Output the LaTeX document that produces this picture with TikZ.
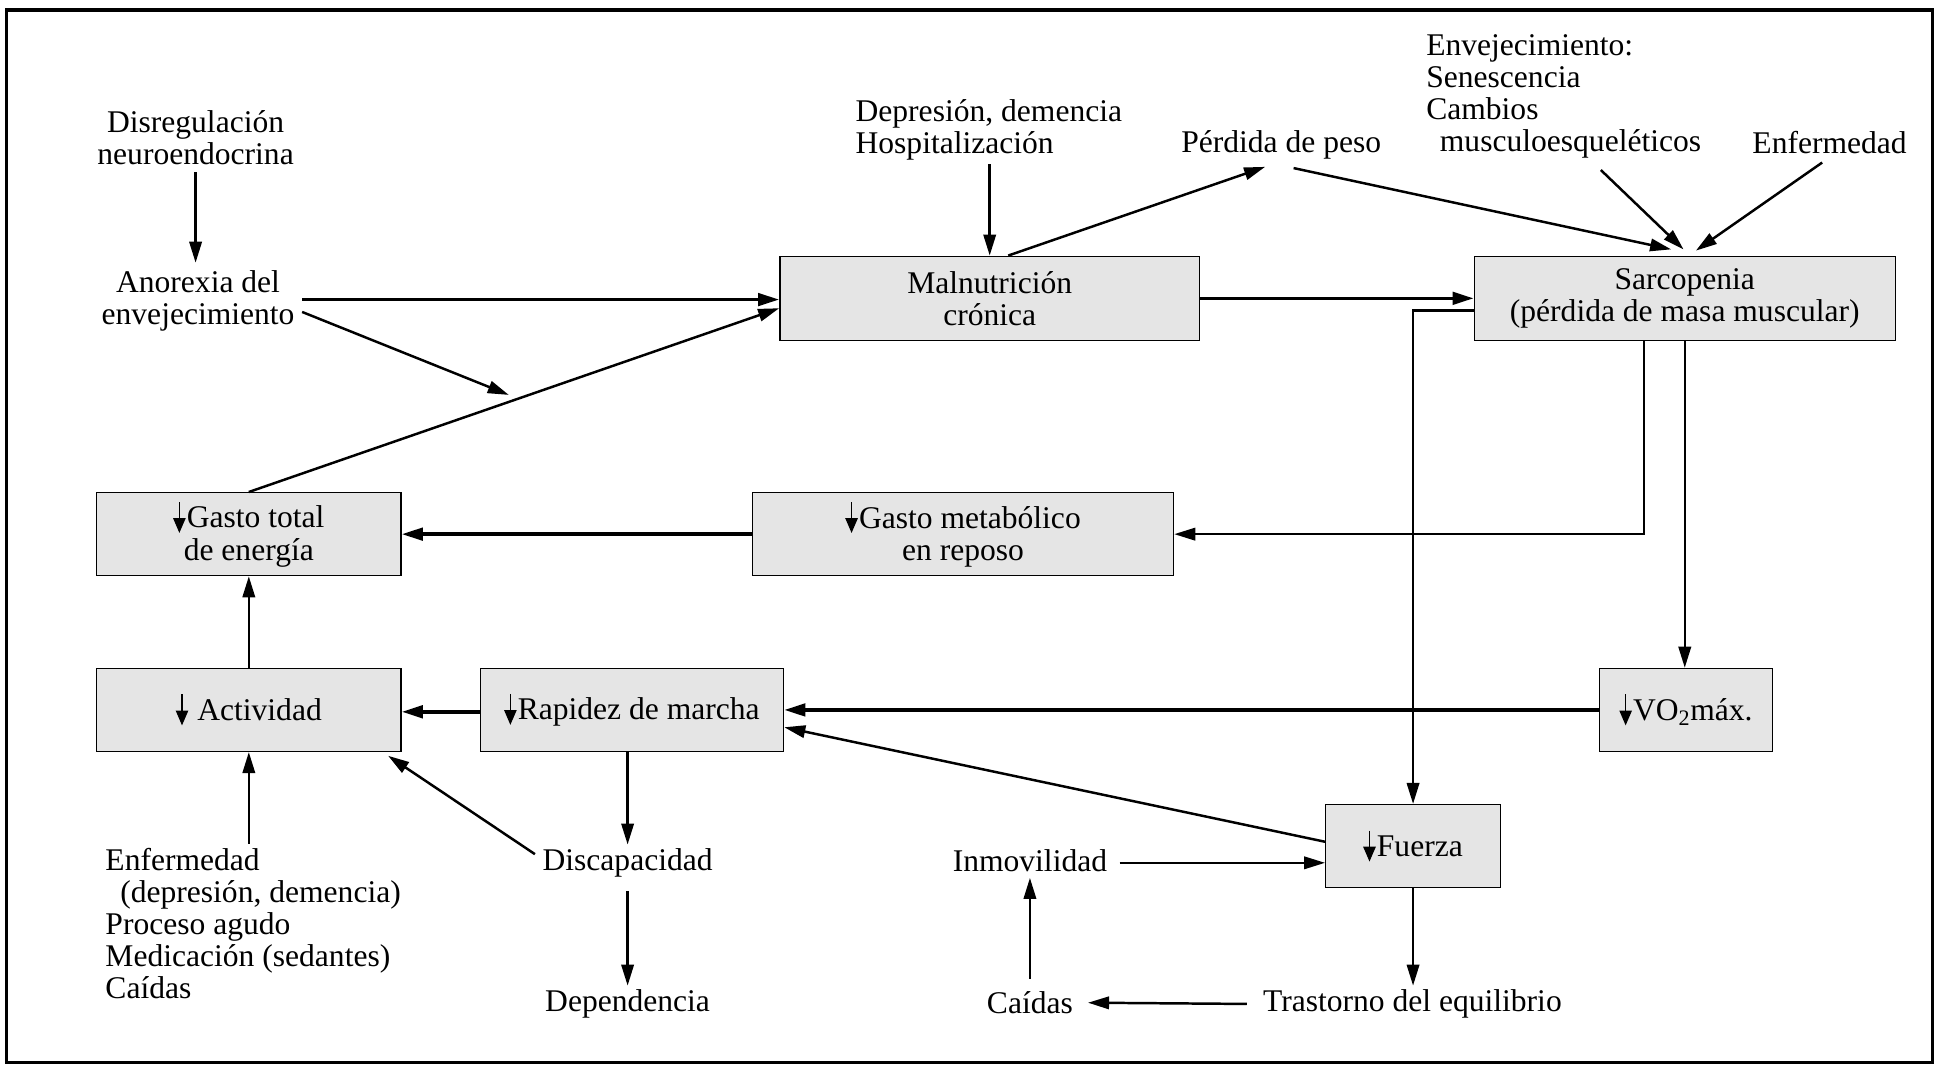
\documentclass[tikz,border=0pt]{standalone}
\usepackage{fontspec}
\setmainfont{Liberation Serif}
\usetikzlibrary{arrows.meta,calc}
\newcommand{\dnarrow}{\tikz[baseline=0pt]{\draw[line width=1.1pt,-{Triangle[length=12pt,width=10pt]}] (0pt,21pt) -- (0pt,-4pt);}\hspace{1pt}}
\tikzset{
  box/.style={draw=black,line width=1.1pt,fill=gray!20,align=center,inner sep=0pt},
  txt/.style={align=center,inner sep=3pt},
  conn/.style={line width=2pt,-{Triangle[length=17pt,width=10pt]}},
  thick conn/.style={line width=2.8pt,-{Triangle[length=17pt,width=10pt]}}
}
\begin{document}
\begin{tikzpicture}[x=1pt,y=-1pt,font=\fontsize{25.5pt}{26pt}\selectfont]
\useasboundingbox (0,0) rectangle (1568,868);
\draw[line width=2.6pt] (5,8) rectangle (1561,858);

% boxes
\node[box,minimum width=339pt,minimum height=68pt] (malnut) at (799.5,241) {Malnutrición\\crónica};
\node[box,minimum width=340pt,minimum height=68pt] (sarco) at (1361,241) {Sarcopenia\\(pérdida de masa muscular)};
\node[box,minimum width=246pt,minimum height=67pt] (gtotal) at (201,431.5) {\dnarrow Gasto total\\de energía};
\node[box,minimum width=340pt,minimum height=67pt] (gmet) at (778,431.5) {\dnarrow Gasto metabólico\\en reposo};
\node[box,minimum width=246pt,minimum height=67pt] (activ) at (201,573.5) {\dnarrow\ Actividad};
\node[box,minimum width=245pt,minimum height=67pt] (rapidez) at (510.5,573.5) {\dnarrow Rapidez de marcha};
\node[box,minimum width=140pt,minimum height=67pt] (vo2) at (1362,573.5) {\dnarrow VO\textsubscript{2}máx.};
\node[box,minimum width=141pt,minimum height=67pt] (fuerza) at (1141.5,683.5) {\dnarrow Fuerza};

% text nodes
\node[txt] (disreg) at (158,111) {Disregulación\\neuroendocrina};
\node[txt] (anorex) at (160,243) {Anorexia del\\envejecimiento};
\node[txt,align=left,anchor=west] (depres) at (688,105) {Depresión, demencia\\Hospitalización};
\node[txt] (perdida) at (1035,117) {Pérdida de peso};
\node[txt,align=left,anchor=west] (envej) at (1149,78) {Envejecimiento:\\Senescencia\\Cambios\\\hspace*{11pt}musculoesqueléticos};
\node[txt] (enferm) at (1478,115) {Enfermedad};
\node[txt,align=left,anchor=west] (left) at (82,746) {Enfermedad\\\hspace*{12pt}(depresión, demencia)\\Proceso agudo\\Medicación (sedantes)\\Caídas};
\node[txt] (discap) at (507,697) {Discapacidad};
\node[txt] (depend) at (507,811) {Dependencia};
\node[txt] (inmov) at (832,695) {Inmovilidad};
\node[txt] (caidas) at (832,810) {Caídas};
\node[txt] (trast) at (1141,811) {Trastorno del equilibrio};

\coordinate (mid) at (411,319);

% connectors
\draw[conn] ([yshift=-3pt]disreg.south) -- ([yshift=3pt]disreg.south |- anorex.north);
\draw[thick conn] ([xshift=3pt,yshift=1pt]anorex.east) -- ([yshift=1pt]anorex.east -| malnut.west);
\draw[conn] ([xshift=3pt,yshift=-9pt]anorex.east) -- (mid);
\draw[conn] (gtotal.north) -- ([yshift=-8pt]malnut.west);
\draw[conn] (malnut.north |- depres.south) -- (malnut.north);
\draw[conn] ([xshift=15pt]malnut.north) -- ([xshift=-13pt,yshift=-3pt]perdida.south);
\draw[conn] ([xshift=10pt,yshift=-4pt]perdida.south) -- ([xshift=-11pt,yshift=5pt]sarco.north);
\draw[conn] ([xshift=30pt,yshift=-6pt]envej.south) -- ([xshift=-1pt,yshift=5pt]sarco.north);
\draw[conn] ([xshift=-6pt,yshift=-4pt]enferm.south) -- ([xshift=9pt,yshift=4pt]sarco.north);
\draw[thick conn] (malnut.east) -- (sarco.west);
\draw[conn] ([yshift=-10pt]sarco.west) -| (fuerza.north);
\draw[conn] ([xshift=-33pt]sarco.south) |- (gmet.east);
\draw[conn] (sarco.south) -- (sarco.south |- vo2.north);
\draw[thick conn] (gmet.west) -- (gtotal.east);
\draw[conn] (activ.north) -- (gtotal.south);
\draw[thick conn] ([yshift=-1.5pt]rapidez.west) -- ([yshift=-1.5pt]activ.east);
\draw[thick conn] (vo2.west) -- (rapidez.east);
\draw[conn] ([yshift=3.5pt]fuerza.west) -- ([yshift=-14pt]rapidez.east);
\draw[conn] (rapidez.south -| discap.north) -- (discap.north);
\draw[conn] ([xshift=-3pt,yshift=7pt]discap.west) -- ([xshift=-11pt,yshift=-3pt]activ.south east);
\draw[conn] ([yshift=-8pt]discap.south) -- (depend.north);
\draw[conn] (activ.south |- left.north) -- (activ.south);
\draw[conn] ([xshift=7pt,yshift=-2pt]inmov.east) -- ([yshift=-2pt]inmov.east -| fuerza.west);
\draw[conn] ([yshift=7pt]caidas.north) -- ([yshift=-2pt]caidas.north |- inmov.south);
\draw[conn] (fuerza.south) -- (fuerza.south |- trast.north);
\draw[conn] ([xshift=-10pt]trast.west) -- ([xshift=9pt]caidas.east);
\end{tikzpicture}
\end{document}
